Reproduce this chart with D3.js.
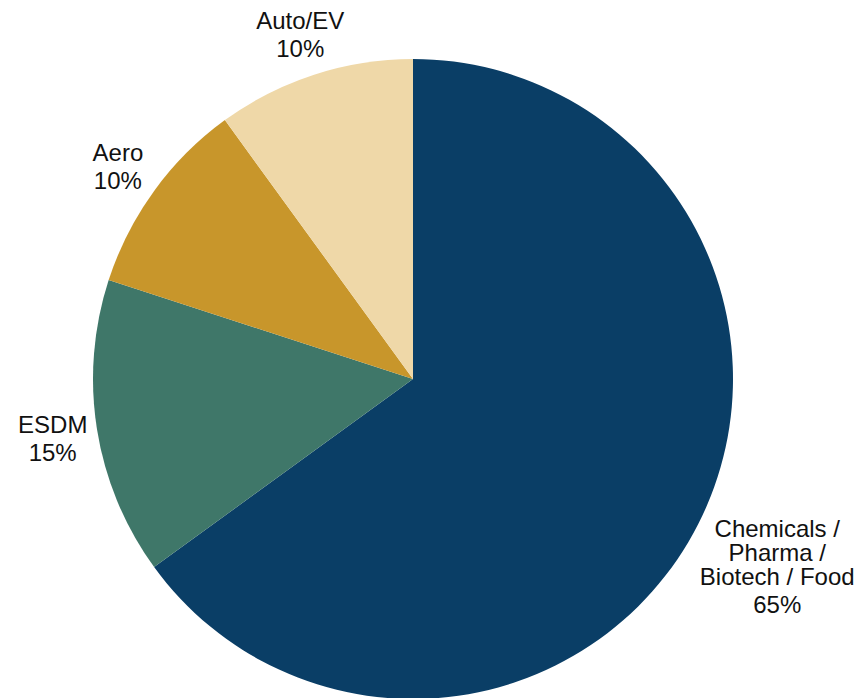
<!DOCTYPE html>
<html>
<head>
  <meta charset="UTF-8">
  <title>Sector split</title>
  <script src="https://d3js.org/d3.v7.min.js"></script>
  <style>
    body { margin: 0; background: #fff; }
    text { font-family: "Liberation Sans", Arial, Helvetica, sans-serif; fill: #111; }
  </style>
</head>
<body>
  <div id="chart"></div>
  <script>
    // Data
    const sectors = ["Chemicals / Pharma / Biotech / Food", "ESDM", "Aero", "Auto/EV"];
    const shares = [65, 15, 10, 10];
    const nameLines = [["Chemicals /", "Pharma /", "Biotech / Food"], ["ESDM"], ["Aero"], ["Auto/EV"]];
    const colors = ["#0a3e66", "#3f7769", "#c8962b", "#efd8a8"];

    const width = 864, height = 698;
    const cx = 413, cy = 379, radius = 320;

    const svg = d3.select("#chart").append("svg")
      .attr("width", width)
      .attr("height", height);

    const g = svg.append("g").attr("transform", `translate(${cx},${cy})`);

    const data = sectors.map((s, i) => ({ name: s, value: shares[i], lines: nameLines[i], color: colors[i] }));

    const pie = d3.pie().sort(null).value(d => d.value);
    const arc = d3.arc().innerRadius(0).outerRadius(radius);

    const arcs = pie(data);

    g.selectAll("path.slice")
      .data(arcs)
      .join("path")
      .attr("class", "slice")
      .attr("d", arc)
      .attr("fill", d => d.data.color);

    // Labels outside the pie
    const fontSize = 24, lineGap = 24, pctGap = 28, capH = 17;
    arcs.forEach(a => {
      const mid = (a.startAngle + a.endAngle) / 2;
      const n = a.data.lines.length;
      const labelR = radius * 1.14 + (n - 1) * 22;
      const lx = labelR * Math.sin(mid);
      const ly = -labelR * Math.cos(mid) + 2;
      // block from first baseline - capH to last baseline
      const blockH = capH + (n - 1) * lineGap + pctGap;
      const firstBase = ly - blockH / 2 + capH;
      const t = g.append("text")
        .attr("text-anchor", "middle")
        .style("font-size", fontSize + "px");
      a.data.lines.forEach((ln, i) => {
        t.append("tspan").attr("x", lx).attr("y", firstBase + i * lineGap).text(ln);
      });
      t.append("tspan").attr("x", lx)
        .attr("y", firstBase + (n - 1) * lineGap + pctGap)
        .text(a.data.value + "%");
    });
  </script>
</body>
</html>
